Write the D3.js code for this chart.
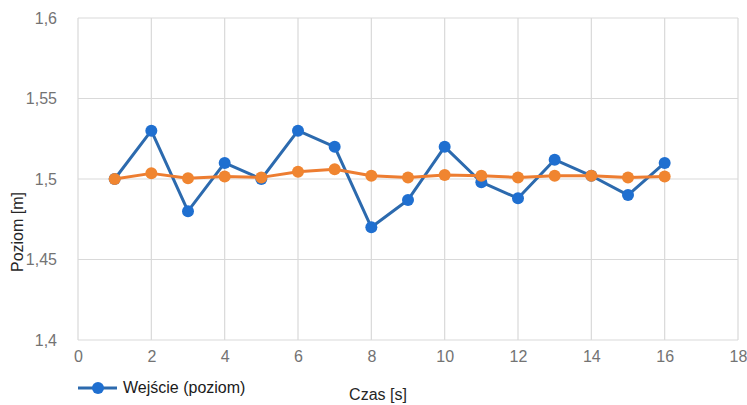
<!DOCTYPE html>
<html>
<head>
<meta charset="utf-8">
<script src="https://cdn.jsdelivr.net/npm/d3@7"></script>
<style>
  body { margin: 0; background: #fff; }
  .tick text { font-family: "Liberation Sans Narrow", "Arial Narrow", "Liberation Sans", sans-serif; }
</style>
</head>
<body>
<div id="chart"></div>
<script>
// data
var czas = [1, 2, 3, 4, 5, 6, 7, 8, 9, 10, 11, 12, 13, 14, 15, 16];
var wejscie = [1.500, 1.530, 1.480, 1.510, 1.500, 1.530, 1.520, 1.470, 1.487, 1.520, 1.498, 1.488, 1.512, 1.502, 1.490, 1.510];
var wyjscie = [1.500, 1.5035, 1.5005, 1.5015, 1.501, 1.5045, 1.506, 1.502, 1.501, 1.5025, 1.502, 1.501, 1.502, 1.502, 1.501, 1.5015];
var xTicks = [0, 2, 4, 6, 8, 10, 12, 14, 16, 18];
var yTicks = [1.4, 1.45, 1.5, 1.55, 1.6];

var width = 747, height = 405;
var margin = {top: 18, right: 9, bottom: 65, left: 78};

var svg = d3.select("#chart")
    .append("svg")
    .attr("width", width)
    .attr("height", height);

var x = d3.scaleLinear()
    .domain([0, 18])
    .range([margin.left, width - margin.right]);

var y = d3.scaleLinear()
    .domain([1.4, 1.6])
    .range([height - margin.bottom, margin.top]);

var fmt = function (d) { return String(d).replace(".", ","); };

// grid
svg.append("g")
    .selectAll("line")
    .data(yTicks)
    .enter()
    .append("line")
    .attr("x1", x(0)).attr("x2", x(18))
    .attr("y1", function (d) { return y(d); })
    .attr("y2", function (d) { return y(d); })
    .attr("stroke", "#d9d9d9")
    .attr("stroke-width", 1.2);

svg.append("g")
    .selectAll("line")
    .data(xTicks)
    .enter()
    .append("line")
    .attr("x1", function (d) { return x(d); })
    .attr("x2", function (d) { return x(d); })
    .attr("y1", y(1.4)).attr("y2", y(1.6))
    .attr("stroke", "#d9d9d9")
    .attr("stroke-width", 1.2);

// axes (labels only)
var xAxis = svg.append("g")
    .attr("transform", "translate(0," + (y(1.4) + 8) + ")")
    .call(d3.axisBottom(x).tickValues(xTicks).tickFormat(fmt).tickSize(0));
xAxis.select(".domain").remove();
xAxis.selectAll("text")
    .attr("fill", "#737373")
    .style("font-size", "16px");

var yAxis = svg.append("g")
    .attr("transform", "translate(" + (x(0) - 18) + ",0)")
    .call(d3.axisLeft(y).tickValues(yTicks).tickFormat(fmt).tickSize(0));
yAxis.select(".domain").remove();
yAxis.selectAll("text")
    .attr("fill", "#737373")
    .style("font-size", "16px");

// series
var line = d3.line()
    .x(function (d, i) { return x(czas[i]); })
    .y(function (d) { return y(d); });

function drawSeries(values, lineColor, dotColor) {
    svg.append("path")
        .datum(values)
        .attr("fill", "none")
        .attr("stroke", lineColor)
        .attr("stroke-width", 3)
        .attr("stroke-linejoin", "round")
        .attr("d", line);
    svg.append("g")
        .selectAll("circle")
        .data(values)
        .enter()
        .append("circle")
        .attr("cx", function (d, i) { return x(czas[i]); })
        .attr("cy", function (d) { return y(d); })
        .attr("r", 6)
        .attr("fill", dotColor);
}

drawSeries(wejscie, "#2c6aae", "#1f6fd0");
drawSeries(wyjscie, "#ed7d31", "#f08530");

// axis titles
svg.append("text")
    .attr("x", 378)
    .attr("y", 400)
    .attr("text-anchor", "middle")
    .style("font-family", "Liberation Sans, sans-serif")
    .style("font-size", "16px")
    .attr("fill", "#262626")
    .text("Czas [s]");

svg.append("text")
    .attr("transform", "translate(23,232) rotate(-90)")
    .attr("text-anchor", "middle")
    .style("font-family", "Liberation Sans, sans-serif")
    .style("font-size", "16px")
    .attr("fill", "#262626")
    .text("Poziom [m]");

// legend
var legend = svg.append("g").attr("transform", "translate(78,388)");
legend.append("line")
    .attr("x1", 0).attr("x2", 39)
    .attr("stroke", "#2c6aae")
    .attr("stroke-width", 3);
legend.append("circle")
    .attr("cx", 20).attr("r", 6)
    .attr("fill", "#1f6fd0");
legend.append("text")
    .attr("x", 45)
    .attr("y", 5)
    .style("font-family", "Liberation Sans, sans-serif")
    .style("font-size", "16px")
    .attr("fill", "#1a1a1a")
    .text("Wejście (poziom)");
</script>
</body>
</html>
